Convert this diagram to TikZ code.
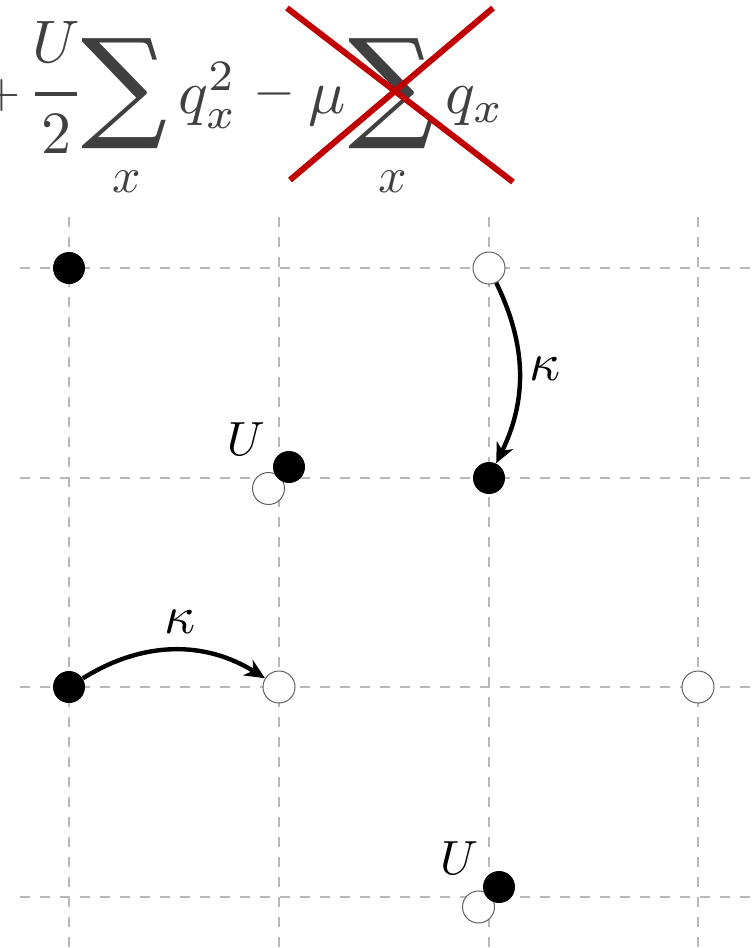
\documentclass[tikz,border=0pt]{standalone}
\usepackage{graphicx}
\usepackage{fontspec}
\usetikzlibrary{arrows.meta}
\newfontfamily\sumfont{DejaVu Serif}
\definecolor{fgray}{HTML}{404040}
\definecolor{xred}{HTML}{C00000}
\definecolor{gridgray}{HTML}{B8B8B8}
\definecolor{ring}{HTML}{606060}
\newcommand{\eqbig}[1]{\scalebox{3.1}{#1}}
\newcommand{\eqsml}[1]{\scalebox{2.5}{#1}}
\newcommand{\bigsum}{\resizebox*{!}{55pt}{\sumfont ∑}}
\begin{document}
\begin{tikzpicture}[x=0.5pt,y=-0.5pt,
  gridline/.style={gridgray, dash pattern=on 5pt off 5pt, line width=0.7pt},
  full/.style={circle, fill=black, minimum size=16pt, inner sep=0pt},
  empty/.style={circle, draw=ring, fill=white, line width=0.5pt, minimum size=16pt, inner sep=0pt},
  hop/.style={line width=2.2pt, -{Stealth[length=10pt,width=9pt,inset=3pt]}},
  eq/.style={text=fgray, inner sep=0pt},
  lab/.style={inner sep=0pt},
  strike/.style={xred, line width=3pt},
  fracbar/.style={fgray, line width=2.2pt},
]
\useasboundingbox (0,0) rectangle (754,948);
% grid
\foreach \x in {69,279,489,698} \draw[gridline] (\x,217) -- (\x,948);
\foreach \y in {268,478,687,897} \draw[gridline] (20,\y) -- (754,\y);
% formula
\node[eq] (plus) at (1.5,95) {\scalebox{2.4}{$+$}};
\node[eq] (num) at (56,42) {\scalebox{3.0}{$U$}};
\node[eq] (den) at (56,134) {\scalebox{3.0}{$2$}};
\coordinate (fb1) at (35,94);
\coordinate (fb2) at (77,94);
\draw[fracbar] (fb1) -- (fb2);
\node[eq] (sum1) at (125,94) {\bigsum};
\node[eq] (sub1) at (127,182) {\eqsml{$x$}};
\node[eq, anchor=base west] (q2) at (178,113) {\eqbig{$q_x^2$}};
\node[eq] (minus) at (274,94) {\scalebox{2.7}{$-$}};
\node[eq, anchor=base west] (mu) at (308,113) {\eqbig{$\mu$}};
\node[eq] (sum2) at (392,94) {\bigsum};
\node[eq] (sub2) at (393,182) {\eqsml{$x$}};
\node[eq, anchor=base west] (qx) at (445,113) {\eqbig{$q_x$}};
% red cross
\coordinate (c1) at (287,8);
\coordinate (c2) at (513,182);
\coordinate (c3) at (493,8);
\coordinate (c4) at (290,180);
\draw[strike] (c1) -- (c2);
\draw[strike] (c3) -- (c4);
% sites
\node[full] (a1) at (69,268) {};
\node[empty] (a2) at (489,268) {};
\node[full] (a3) at (489,478) {};
\node[empty] (u1w) at (268.5,488.5) {};
\node[full] (u1b) at (289,467) {};
\node[full] (a4) at (69,687) {};
\node[empty] (a5) at (279,687) {};
\node[empty] (a6) at (698,687) {};
\node[empty] (u2w) at (478.5,907) {};
\node[full] (u2b) at (499,887) {};
% labels
\node[lab] (ul1) at (246,439) {\scalebox{2.4}{$U$}};
\node[lab] (ul2) at (459,858) {\scalebox{2.4}{$U$}};
\node[lab] (k1) at (545,369) {\scalebox{2.7}{$\kappa$}};
\node[lab] (k2) at (180,622) {\scalebox{2.7}{$\kappa$}};
% hops
\draw[hop] (a2) to[bend left=26] (a3);
\draw[hop] (a4) to[bend left=32] (a5);
\end{tikzpicture}
\end{document}
